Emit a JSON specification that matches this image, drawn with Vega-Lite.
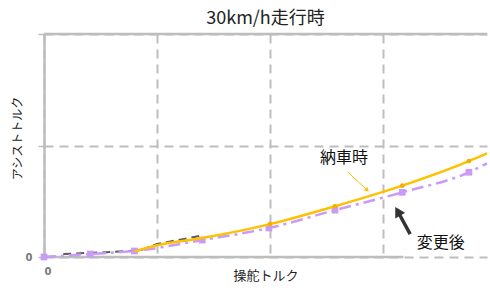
{
  "$schema": "https://vega.github.io/schema/vega-lite/v6.json",
  "autosize": {"type": "none"},
  "width": 443,
  "height": 223,
  "padding": {"left": 44, "top": 34, "right": 3, "bottom": 42},
  "background": "white",
  "config": {"view": {"stroke": null}, "font": "Noto Sans CJK JP"},
  "title": {"text": "30km/h走行時", "fontSize": 18, "fontWeight": "normal", "color": "#222", "font": "Noto Sans CJK JP", "offset": 5},
  "datasets": {
    "curves": [
      {"series": "納車時", "x": 0, "y": 0},
      {"series": "納車時", "x": 0.41, "y": 0.02},
      {"series": "納車時", "x": 0.8, "y": 0.05},
      {"series": "納車時", "x": 1.0, "y": 0.105},
      {"series": "納車時", "x": 1.4, "y": 0.17},
      {"series": "納車時", "x": 2.0, "y": 0.295},
      {"series": "納車時", "x": 2.575, "y": 0.455},
      {"series": "納車時", "x": 3.17, "y": 0.64},
      {"series": "納車時", "x": 3.76, "y": 0.86},
      {"series": "納車時", "x": 3.92, "y": 0.93},
      {"series": "変更後", "x": 0, "y": 0},
      {"series": "変更後", "x": 0.41, "y": 0.027},
      {"series": "変更後", "x": 0.8, "y": 0.054},
      {"series": "変更後", "x": 1.4, "y": 0.152},
      {"series": "変更後", "x": 1.99, "y": 0.26},
      {"series": "変更後", "x": 2.575, "y": 0.42},
      {"series": "変更後", "x": 3.17, "y": 0.58},
      {"series": "変更後", "x": 3.76, "y": 0.76},
      {"series": "変更後", "x": 3.92, "y": 0.84}
    ],
    "ref": [
      {"x": 0.17, "y": 0.027},
      {"x": 0.6, "y": 0.045},
      {"x": 0.85, "y": 0.06},
      {"x": 1.0, "y": 0.116},
      {"x": 1.41, "y": 0.196}
    ],
    "labels": [
      {"label": "納車時", "x": 2.655, "y": 0.89},
      {"label": "変更後", "x": 3.51, "y": 0.125}
    ],
    "arrows": [
      {"name": "納車時", "x": 2.69, "y": 0.76, "x2": 2.86, "y2": 0.6},
      {"name": "変更後", "x": 3.24, "y": 0.205, "x2": 3.13, "y2": 0.41}
    ],
    "frame": [
      {"x": 0, "x2": 3.92, "y": 2},
      {"x": 0, "x2": 3.18, "y": 0}
    ]
  },
  "data": {"name": "curves"},
  "layer": [
    {
      "data": {"name": "frame"},
      "mark": {"type": "rule", "color": "#bdbdbd", "strokeWidth": 2.5},
      "encoding": {
        "x": {"field": "x", "type": "quantitative", "scale": {"domain": [0, 3.92], "nice": false, "zero": false},
          "axis": {"values": [0, 1, 2, 3], "labelExpr": "datum.value == 0 ? '0' : ''", "grid": true, "gridDash": [9, 6], "gridColor": "#bdbdbd", "gridWidth": 2, "domain": false, "ticks": false, "labelPadding": 9, "labelColor": "#777", "labelFontSize": 10, "labelFontWeight": "bold", "labelFont": "DejaVu Sans",
            "title": "操舵トルク", "titleFontSize": 13, "titleFontWeight": "normal", "titleColor": "#222", "titleY": 18, "titleBaseline": "middle"}},
        "x2": {"field": "x2"},
        "y": {"field": "y", "type": "quantitative", "scale": {"domain": [0, 2], "nice": false},
          "axis": {"values": [0, 1, 2], "labelExpr": "datum.value == 0 ? '0' : ''", "grid": true, "gridDash": [9, 6], "gridColor": "#bdbdbd", "gridWidth": 2, "domain": true, "domainColor": "#bdbdbd", "domainWidth": 2.5, "ticks": true, "tickSize": 6, "tickColor": "#bdbdbd", "tickWidth": 1.5, "labelPadding": 6, "labelColor": "#777", "labelFontSize": 10, "labelFontWeight": "bold", "labelFont": "DejaVu Sans",
            "title": "アシストトルク", "titleFontSize": 12, "titleFontWeight": "normal", "titleColor": "#222", "titleX": -27, "titleY": 104, "titleAngle": -90, "titleAlign": "center", "titleBaseline": "middle"}}
      }
    },
    {
      "data": {"name": "ref"},
      "mark": {"type": "line", "color": "#404040", "strokeWidth": 2, "strokeDash": [8, 5], "opacity": 0.85},
      "encoding": {"x": {"field": "x", "type": "quantitative"}, "y": {"field": "y", "type": "quantitative"}}
    },
    {
      "transform": [{"filter": "datum.series == '変更後'"}],
      "mark": {"type": "line", "color": "#C99BF7", "strokeWidth": 2.5, "strokeDash": [12, 5, 3, 5], "interpolate": "monotone"},
      "encoding": {"x": {"field": "x", "type": "quantitative"}, "y": {"field": "y", "type": "quantitative"}}
    },
    {
      "transform": [{"filter": "datum.series == '変更後' && datum.x < 3.9"}],
      "mark": {"type": "point", "shape": "square", "filled": true, "color": "#C99BF7", "size": 45, "opacity": 1},
      "encoding": {"x": {"field": "x", "type": "quantitative"}, "y": {"field": "y", "type": "quantitative"}}
    },
    {
      "transform": [{"filter": "datum.series == '納車時' && datum.x >= 0.8"}],
      "mark": {"type": "line", "color": "#FFC000", "strokeWidth": 2.5, "interpolate": "monotone"},
      "encoding": {"x": {"field": "x", "type": "quantitative"}, "y": {"field": "y", "type": "quantitative"}}
    },
    {
      "transform": [{"filter": "datum.series == '納車時' && datum.x >= 2 && datum.x < 3.9"}],
      "mark": {"type": "point", "shape": "circle", "filled": true, "color": "#F0B000", "size": 22, "opacity": 1},
      "encoding": {"x": {"field": "x", "type": "quantitative"}, "y": {"field": "y", "type": "quantitative"}}
    },
    {
      "data": {"name": "arrows"},
      "mark": {"type": "rule"},
      "encoding": {
        "x": {"field": "x", "type": "quantitative"}, "y": {"field": "y", "type": "quantitative"},
        "x2": {"field": "x2"}, "y2": {"field": "y2"},
        "color": {"field": "name", "type": "nominal", "scale": {"domain": ["納車時", "変更後"], "range": ["#FFC000", "#333333"]}, "legend": null},
        "strokeWidth": {"field": "name", "type": "nominal", "scale": {"domain": ["納車時", "変更後"], "range": [1, 3.5]}, "legend": null}
      }
    },
    {
      "data": {"name": "arrows"},
      "mark": {"type": "point", "shape": "triangle-up", "filled": true, "opacity": 1},
      "encoding": {
        "x": {"field": "x2", "type": "quantitative"}, "y": {"field": "y2", "type": "quantitative"},
        "color": {"field": "name", "type": "nominal", "scale": {"domain": ["納車時", "変更後"], "range": ["#FFC000", "#333333"]}, "legend": null},
        "size": {"field": "name", "type": "nominal", "scale": {"domain": ["納車時", "変更後"], "range": [25, 130]}, "legend": null},
        "angle": {"field": "name", "type": "nominal", "scale": {"domain": ["納車時", "変更後"], "range": [134, 330]}}
      }
    },
    {
      "data": {"name": "labels"},
      "mark": {"type": "text", "fontSize": 16, "color": "#111", "align": "center", "baseline": "middle"},
      "encoding": {"x": {"field": "x", "type": "quantitative"}, "y": {"field": "y", "type": "quantitative"}, "text": {"field": "label"}}
    }
  ]
}
